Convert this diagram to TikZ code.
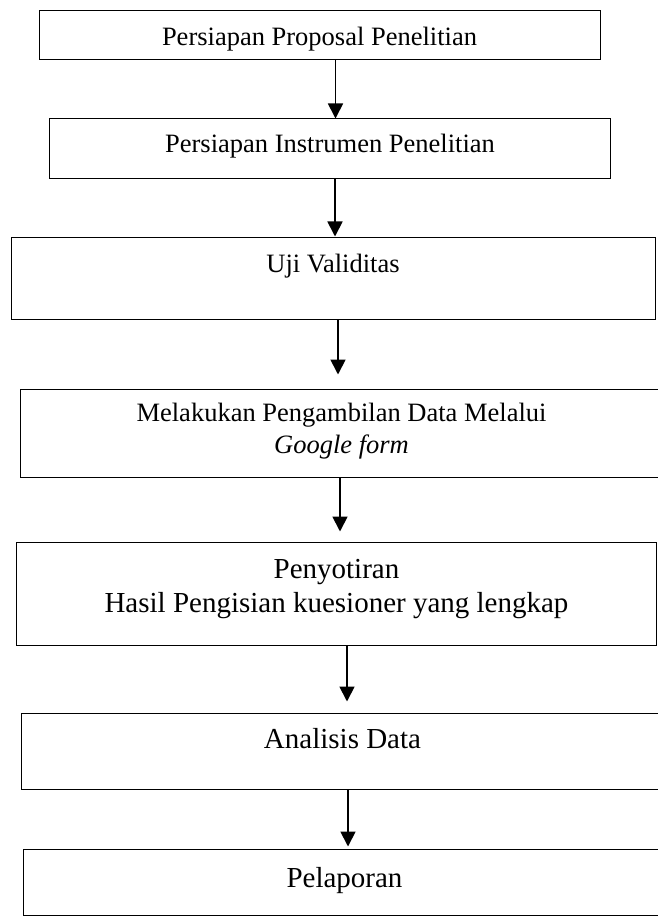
\documentclass[tikz,border=0pt]{standalone}
\usepackage{fontspec}
\setmainfont{Liberation Serif}
\usetikzlibrary{arrows.meta}

\begin{document}
\begin{tikzpicture}[x=1pt, y=-1pt,
  stepbox/.style={draw=black, line width=1pt, inner sep=0pt, rectangle},
  small/.style={anchor=base, inner sep=0pt, font=\fontsize{26.5}{31}\selectfont},
  large/.style={anchor=base, inner sep=0pt, font=\fontsize{29}{34}\selectfont},
  flow/.style={line width=1.8pt, -{Triangle[width=15pt,length=15pt]}}]

\useasboundingbox (0,0) rectangle (657,917);

% process boxes
\node[stepbox, minimum width=561pt,   minimum height=49pt]  (b1) at (319.5,35.5)  {};
\node[stepbox, minimum width=560.5pt, minimum height=60pt]  (b2) at (329.75,149) {};
\node[stepbox, minimum width=643.3pt, minimum height=82pt]  (b3) at (333.35,278) {};
\node[stepbox, minimum width=643pt,   minimum height=88pt]  (b4) at (341.5,433)  {};
\node[stepbox, minimum width=639.2pt, minimum height=103pt] (b5) at (336.4,593.5) {};
\node[stepbox, minimum width=643pt,   minimum height=76pt]  (b6) at (342.5,751)  {};
\node[stepbox, minimum width=643pt,   minimum height=66.5pt] (b7) at (344.5,882.25) {};

% box texts
\node[small] (t1)  at (319.5,45.7) {Persiapan Proposal Penelitian};
\node[small] (t2)  at (330,153)    {Persiapan Instrumen Penelitian};
\node[small] (t3)  at (333,272)    {Uji Validitas};
\node[small] (t4a) at (341.5,421)  {Melakukan Pengambilan Data Melalui};
\node[small] (t4b) at (341.5,453)  {\textit{Google form}};
\node[large] (t5a) at (336.5,578)  {Penyotiran};
\node[large] (t5b) at (336.5,612)  {Hasil Pengisian kuesioner yang lengkap};
\node[large] (t6)  at (342.5,748)  {Analisis Data};
\node[large] (t7)  at (344.5,887)  {Pelaporan};

% connectors
\draw[flow] (b1.south -| 335.5,0) -- (b2.north -| 335.5,0);
\draw[flow] (b2.south -| 335,0)   -- (b3.north -| 335,0);
\draw[flow] (b3.south -| 338,0)   -- ([yshift=14pt]b4.north -| 338,0);
\draw[flow] (b4.south -| 340,0)   -- ([yshift=10pt]b5.north -| 340,0);
\draw[flow] (b5.south -| 347,0)   -- ([yshift=11pt]b6.north -| 347,0);
\draw[flow] (b6.south -| 348,0)   -- ([yshift=2pt]b7.north -| 348,0);

\end{tikzpicture}
\end{document}
